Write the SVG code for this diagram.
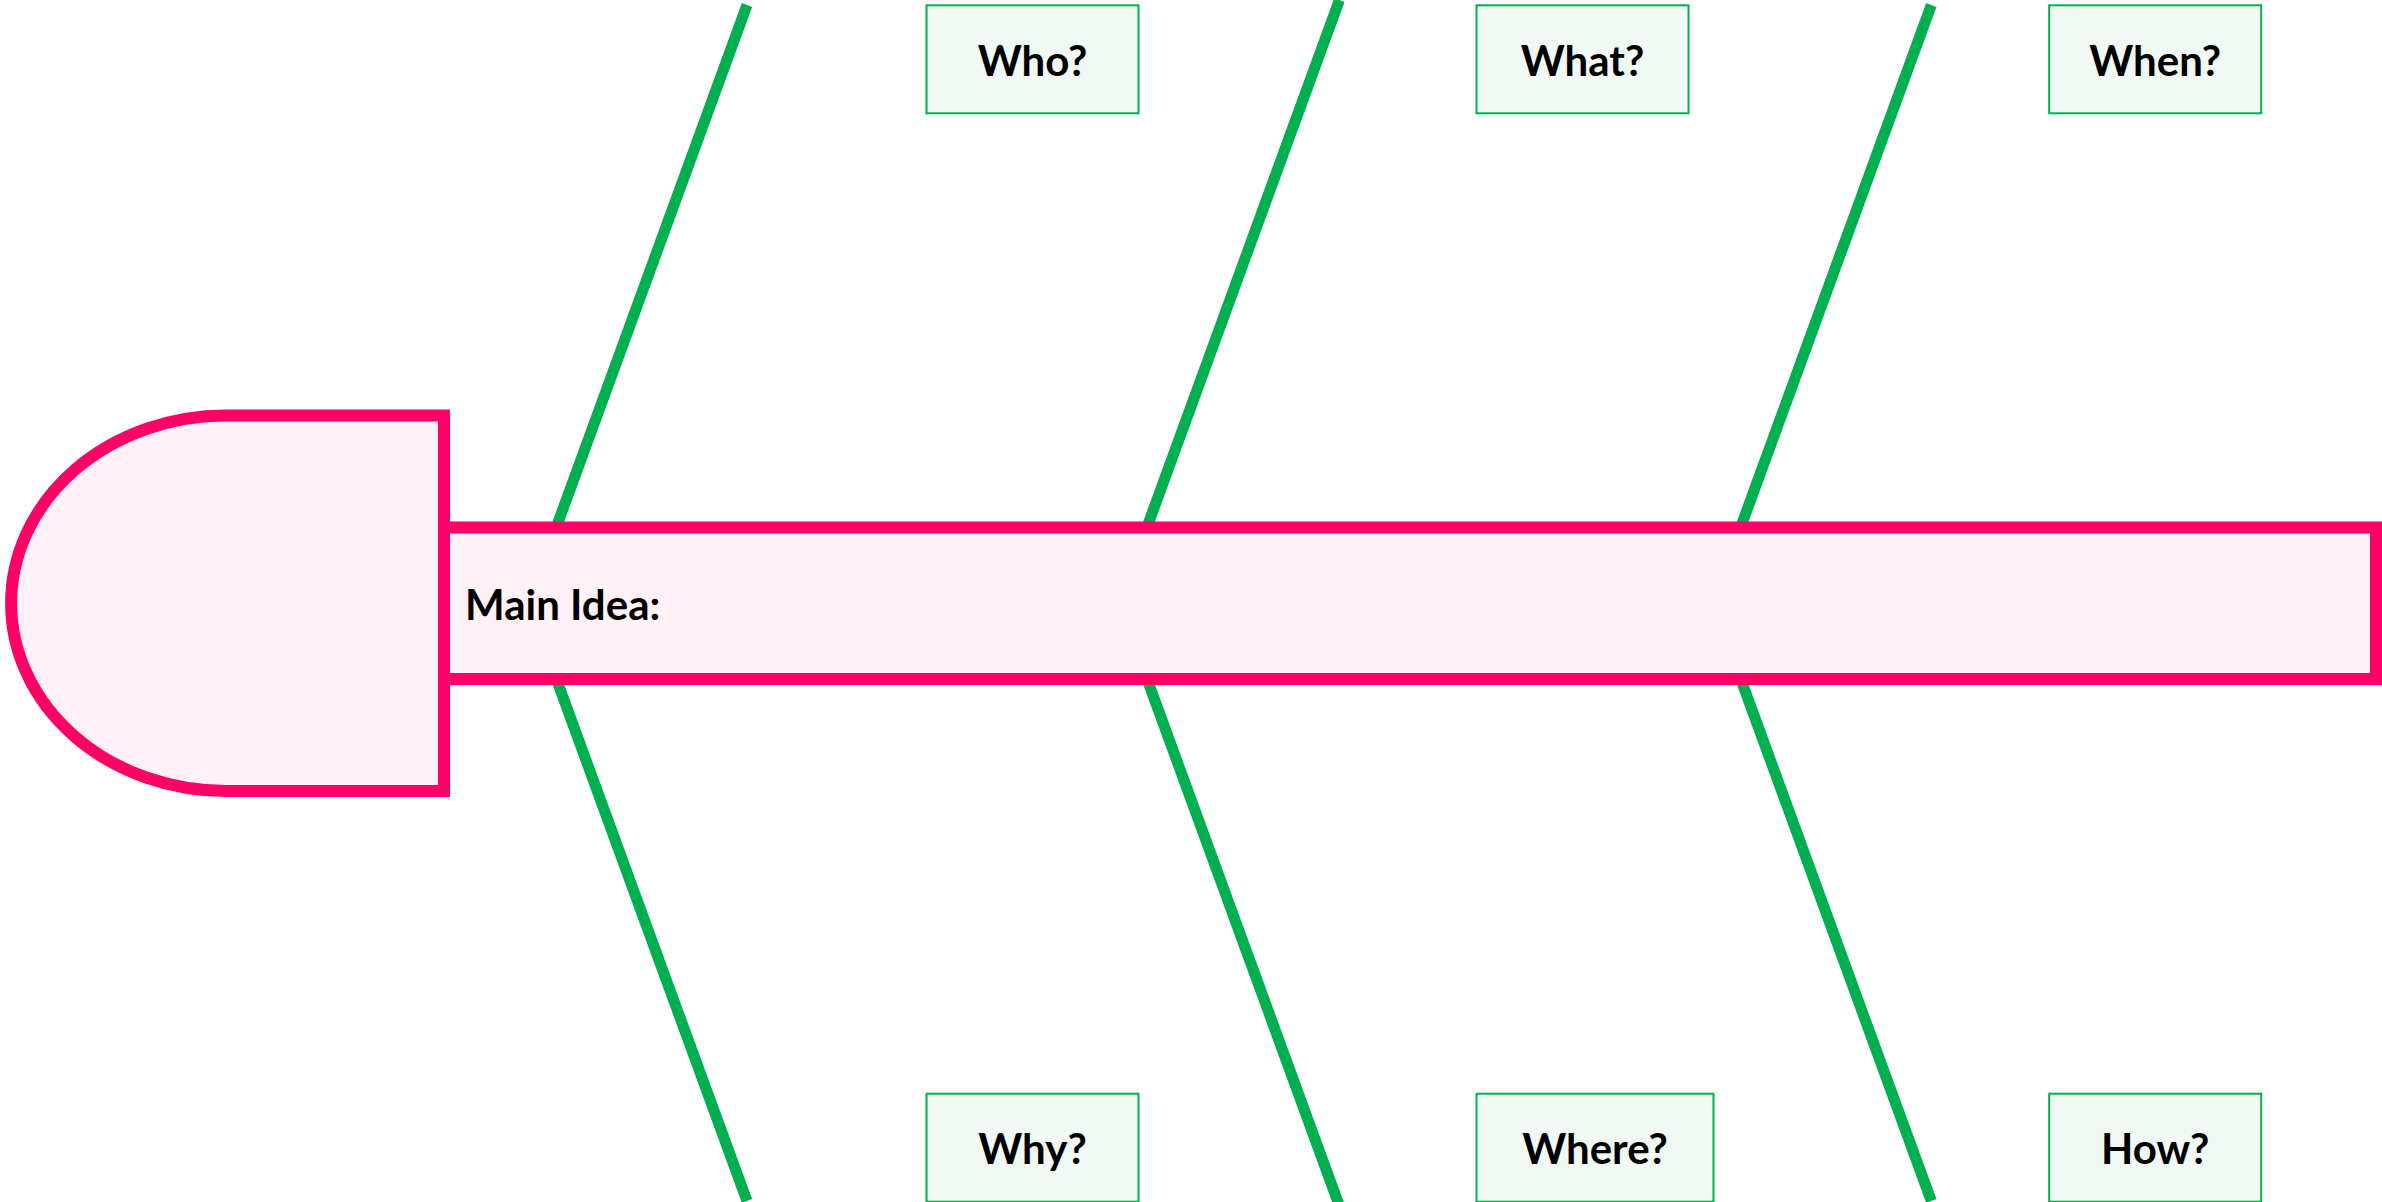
<svg xmlns="http://www.w3.org/2000/svg" width="2382" height="1202" viewBox="0 0 2382 1202">
<style>
.bone{stroke:#00B050;stroke-width:11;fill:none;stroke-linecap:butt}
.pink{fill:#FFF1F6;stroke:#FF0066;stroke-width:12;stroke-linejoin:miter}
.lbl{fill:#F1F9F4;stroke:#00B050;stroke-width:2}
.t{font-family:Lato,"Open Sans","Liberation Sans",sans-serif;font-weight:bold;font-size:42px;fill:#000}
.c{text-anchor:middle}
</style>
<rect x="0" y="0" width="2382" height="1202" fill="#FFFFFF"/>
<g id="connectors">
<line class="bone" x1="747" y1="5" x2="528.6" y2="603"/>
<line class="bone" x1="528.6" y1="603" x2="747" y2="1201"/>
<line class="bone" x1="1339.4" y1="0" x2="1119.3" y2="603"/>
<line class="bone" x1="1119.3" y1="603" x2="1339.4" y2="1206"/>
<line class="bone" x1="1931.3" y1="5" x2="1713" y2="603"/>
<line class="bone" x1="1713" y1="603" x2="1931.3" y2="1201"/>
</g>
<g id="head">
<path class="pink" d="M444 415.5 H226 A215 187.75 0 0 0 226 791 H444 Z"/>
</g>
<g id="main-idea">
<rect class="pink" x="444" y="527.5" width="1932" height="151.5"/>
<text class="t" x="465" y="620">Main Idea:</text>
</g>
<g id="who">
<rect class="lbl" x="926.5" y="5.3" width="212" height="108"/>
<text class="t c" x="1032.5" y="76">Who?</text>
</g>
<g id="what">
<rect class="lbl" x="1476.5" y="5.3" width="212" height="108"/>
<text class="t c" x="1582.5" y="76">What?</text>
</g>
<g id="when">
<rect class="lbl" x="2049.2" y="5.3" width="212" height="108"/>
<text class="t c" x="2155.2" y="76">When?</text>
</g>
<g id="why">
<rect class="lbl" x="926.5" y="1093.7" width="212" height="108"/>
<text class="t c" x="1032.5" y="1164">Why?</text>
</g>
<g id="where">
<rect class="lbl" x="1476.5" y="1093.7" width="237" height="108"/>
<text class="t c" x="1595" y="1164">Where?</text>
</g>
<g id="how">
<rect class="lbl" x="2049.2" y="1093.7" width="212" height="108"/>
<text class="t c" x="2155.2" y="1164">How?</text>
</g>
</svg>
